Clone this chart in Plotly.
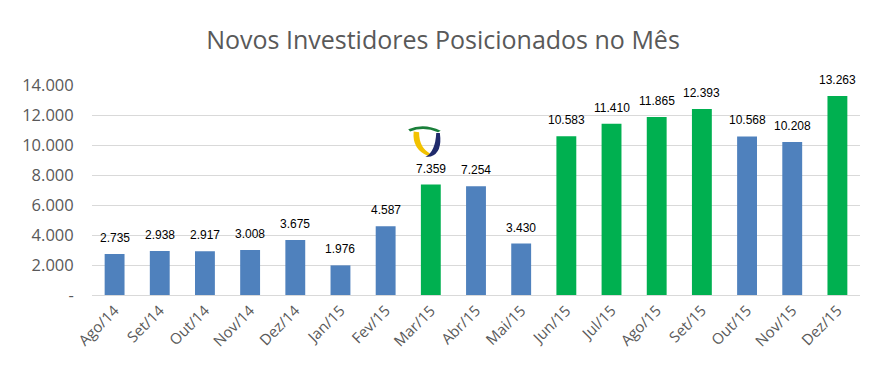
import plotly.graph_objects as go

months = ["Ago/14", "Set/14", "Out/14", "Nov/14", "Dez/14", "Jan/15", "Fev/15", "Mar/15",
          "Abr/15", "Mai/15", "Jun/15", "Jul/15", "Ago/15", "Set/15", "Out/15", "Nov/15", "Dez/15"]
investors = [2735, 2938, 2917, 3008, 3675, 1976, 4587, 7359,
             7254, 3430, 10583, 11410, 11865, 12393, 10568, 10208, 13263]
highlight = [False, False, False, False, False, False, False, True,
             False, False, True, True, True, True, False, False, True]
ytick_vals = [0, 2000, 4000, 6000, 8000, 10000, 12000, 14000]
ytick_text = ["-", "2.000", "4.000", "6.000", "8.000", "10.000", "12.000", "14.000"]

BLUE = "#4F81BD"
GREEN = "#00B050"
colors = [GREEN if h else BLUE for h in highlight]
labels = [f"{v:,}".replace(",", ".") for v in investors]

label_font = dict(family="Liberation Sans Narrow, Arial Narrow, Liberation Sans", size=12, color="#000000")

fig = go.Figure(go.Bar(
    x=months, y=investors, marker_color=colors, marker_line_width=0,
))

for m, v, t in zip(months, investors, labels):
    fig.add_annotation(x=m, y=v, text=t, showarrow=False, xanchor="center",
                       yanchor="bottom", yshift=7, font=label_font)

fig.update_layout(
    width=870, height=365,
    margin=dict(l=84, r=18, t=77, b=78, autoexpand=False),
    paper_bgcolor="white", plot_bgcolor="white",
    title=dict(text="Novos Investidores Posicionados no Mês", x=0.5, xanchor="center",
               y=0.912, yanchor="middle", yref="container",
               font=dict(family="Open Sans, Liberation Sans", size=25, color="#595959")),
    bargap=0.56,
    showlegend=False,
    xaxis=dict(tickangle=-45, automargin=False,
               tickfont=dict(family="Open Sans, Liberation Sans", size=15, color="#595959"),
               showline=True, linecolor="#D9D9D9", linewidth=1, ticks="", showgrid=False),
    yaxis=dict(range=[0, 14000], tickvals=ytick_vals, ticktext=ytick_text, automargin=False,
               tickfont=dict(family="Open Sans, Liberation Sans", size=16.5, color="#595959"),
               showgrid=True, gridcolor="#D9D9D9", gridwidth=1, zeroline=False,
               ticks="outside", ticklen=14, tickcolor="rgba(0,0,0,0)"),
)

# Logo: green arc, yellow left stroke, navy right stroke (approximate)
fig.add_shape(type="path", xref="x", yref="y",
              path="M 6.50 11050 Q 6.85 11500 7.22 10950 L 7.16 10850 Q 6.85 11250 6.54 10900 Z",
              fillcolor="#1A7F3A", line_width=0)
fig.add_shape(type="path", xref="x", yref="y",
              path="M 6.62 10900 Q 6.58 9700 6.95 9250 L 7.00 9400 Q 6.74 9800 6.74 10850 Z",
              fillcolor="#F2C200", line_width=0)
fig.add_shape(type="path", xref="x", yref="y",
              path="M 7.12 10800 Q 7.10 9550 6.88 9200 L 7.00 9230 Q 7.26 9500 7.20 10800 Z",
              fillcolor="#1F2A6B", line_width=0)

fig.write_html("out.html")
